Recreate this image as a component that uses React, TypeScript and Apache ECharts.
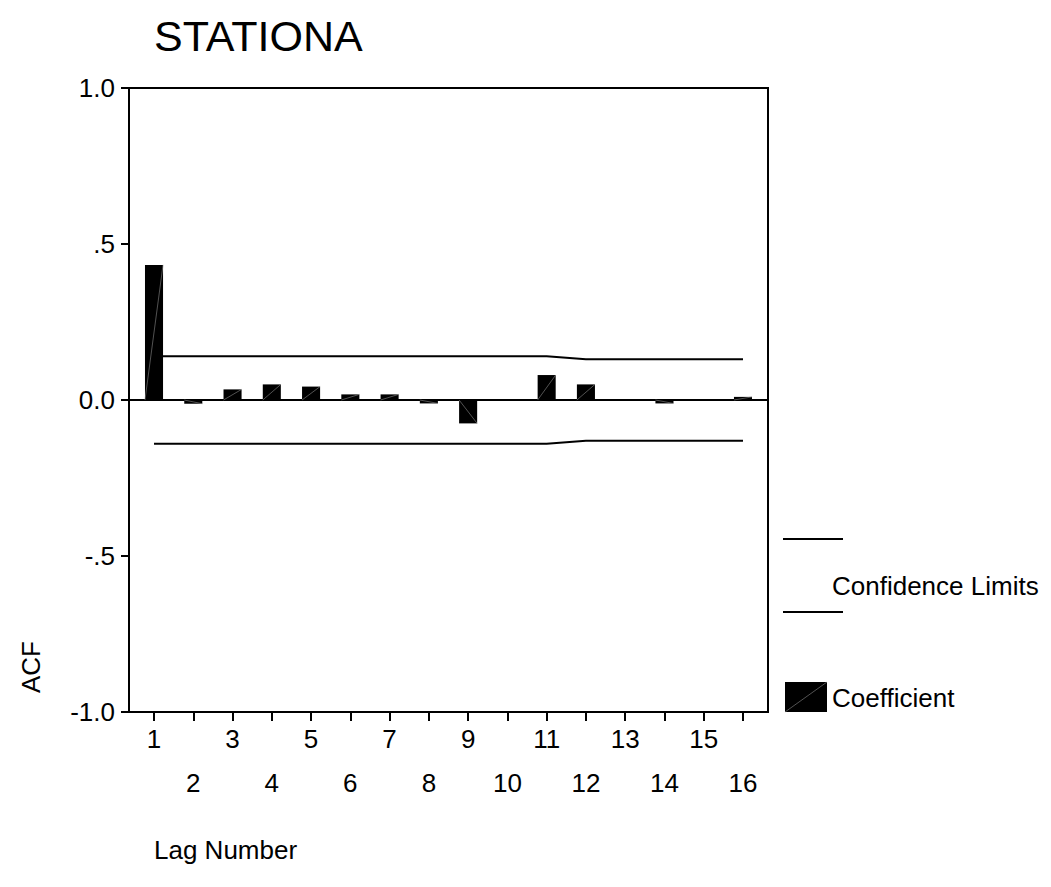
import React, { useEffect, useRef } from "react";
import * as echarts from "echarts";

const lags = [1, 2, 3, 4, 5, 6, 7, 8, 9, 10, 11, 12, 13, 14, 15, 16];
const acf = [0.433, -0.012, 0.034, 0.05, 0.043, 0.018, 0.018, -0.011, -0.075, 0, 0.08, 0.05, 0, -0.011, 0, 0.01];
const upperLimit = [0.14, 0.14, 0.14, 0.14, 0.14, 0.14, 0.14, 0.14, 0.14, 0.14, 0.14, 0.131, 0.131, 0.131, 0.131, 0.131];
const lowerLimit = upperLimit.map((v) => -v);
const yTickLabels: Record<string, string> = { "-1": "-1.0", "-0.5": "-.5", "0": "0.0", "0.5": ".5", "1": "1.0" };

const FONT = '"Liberation Sans", Arial, sans-serif';

export default function App() {
  const ref = useRef<HTMLDivElement>(null);
  useEffect(() => {
    if (!ref.current) return;
    const chart = echarts.init(ref.current, null, { renderer: "svg" });
    const xMin = 0.363;
    const xMax = 16.637;
    chart.setOption({
      animation: false,
      backgroundColor: "#fff",
      textStyle: { fontFamily: FONT, color: "#000" },
      title: {
        text: "STATIONA",
        left: 149,
        top: 9,
        textStyle: { fontSize: 43, fontWeight: "normal", color: "#000", fontFamily: FONT },
      },
      grid: {
        left: 129,
        right: 283,
        top: 88,
        bottom: 175,
        show: true,
        borderColor: "#000",
        borderWidth: 2,
        backgroundColor: "transparent",
      },
      xAxis: {
        type: "value",
        min: xMin,
        max: xMax,
        position: "bottom",
        axisLine: { show: true, onZero: false, lineStyle: { color: "#000", width: 2 } },
        axisTick: { show: true, length: 9, customValues: lags, lineStyle: { color: "#000", width: 2 } },
        axisLabel: {
          customValues: lags,
          margin: 5,
          fontSize: 26,
          lineHeight: 44,
          color: "#000",
          fontFamily: FONT,
          formatter: (v: number) => (v % 2 === 1 ? `${v}` : `\n${v}`),
        },
        splitLine: { show: false },
      },
      yAxis: {
        type: "value",
        min: -1,
        max: 1,
        interval: 0.5,
        axisLine: { show: true, lineStyle: { color: "#000", width: 2 } },
        axisTick: { show: true, length: 8, lineStyle: { color: "#000", width: 2 } },
        axisLabel: {
          margin: 14,
          fontSize: 26,
          color: "#000",
          fontFamily: FONT,
          formatter: (v: number) => yTickLabels[String(v)] ?? String(v),
        },
        splitLine: { show: false },
      },
      series: [
        {
          type: "line",
          data: [[xMin, 0], [xMax, 0]],
          symbol: "none",
          lineStyle: { color: "#000", width: 2 },
          silent: true,
          z: 3,
        },
        {
          type: "line",
          data: lags.map((l, i) => [l, upperLimit[i]]),
          symbol: "none",
          lineStyle: { color: "#000", width: 2 },
          silent: true,
          z: 2,
        },
        {
          type: "line",
          data: lags.map((l, i) => [l, lowerLimit[i]]),
          symbol: "none",
          lineStyle: { color: "#000", width: 2 },
          silent: true,
          z: 2,
        },
        {
          type: "custom",
          z: 4,
          data: lags.map((l, i) => [l, acf[i]]),
          renderItem: (params: any, api: any) => {
            const x = api.value(0);
            const y = api.value(1);
            const p0 = api.coord([x, 0]);
            const p1 = api.coord([x, y]);
            const w = api.size([1, 0])[0] * 0.46;
            const h = Math.abs(p1[1] - p0[1]);
            if (h < 0.5) return { type: "group", children: [] };
            return {
              type: "group",
              children: [
                {
                  type: "rect",
                  shape: { x: p0[0] - w / 2, y: Math.min(p0[1], p1[1]), width: w, height: h },
                  style: { fill: "#000" },
                },
                {
                  type: "line",
                  shape: { x1: p0[0] - w / 2, y1: p0[1], x2: p0[0] + w / 2, y2: p1[1] },
                  style: { stroke: "#8a8a8a", lineWidth: 0.6 },
                },
              ],
            };
          },
        },
      ],
      graphic: [
        { type: "line", shape: { x1: 783, y1: 539, x2: 843, y2: 539 }, style: { stroke: "#000", lineWidth: 2 } },
        { type: "line", shape: { x1: 783, y1: 612, x2: 843, y2: 612 }, style: { stroke: "#000", lineWidth: 2 } },
        {
          type: "text",
          x: 832,
          y: 586,
          style: { text: "Confidence Limits", fontSize: 26, fontFamily: FONT, fill: "#000", verticalAlign: "middle", align: "left" },
        },
        { type: "rect", shape: { x: 785, y: 682, width: 42, height: 30 }, style: { fill: "#000" } },
        { type: "line", shape: { x1: 785, y1: 712, x2: 827, y2: 682 }, style: { stroke: "#8a8a8a", lineWidth: 0.6 } },
        {
          type: "text",
          x: 832,
          y: 698,
          style: { text: "Coefficient", fontSize: 26, fontFamily: FONT, fill: "#000", verticalAlign: "middle", align: "left" },
        },
        {
          type: "text",
          x: 154,
          y: 850,
          style: { text: "Lag Number", fontSize: 26, fontFamily: FONT, fill: "#000", verticalAlign: "middle", align: "left" },
        },
        {
          type: "text",
          x: 31,
          y: 667,
          rotation: Math.PI / 2,
          style: { text: "ACF", fontSize: 26, fontFamily: FONT, fill: "#000", verticalAlign: "middle", align: "center" },
        },
      ],
    });
    return () => chart.dispose();
  }, []);
  return <div ref={ref} style={{ position: "absolute", left: 0, top: 0, width: 1051, height: 887 }} />;
}
